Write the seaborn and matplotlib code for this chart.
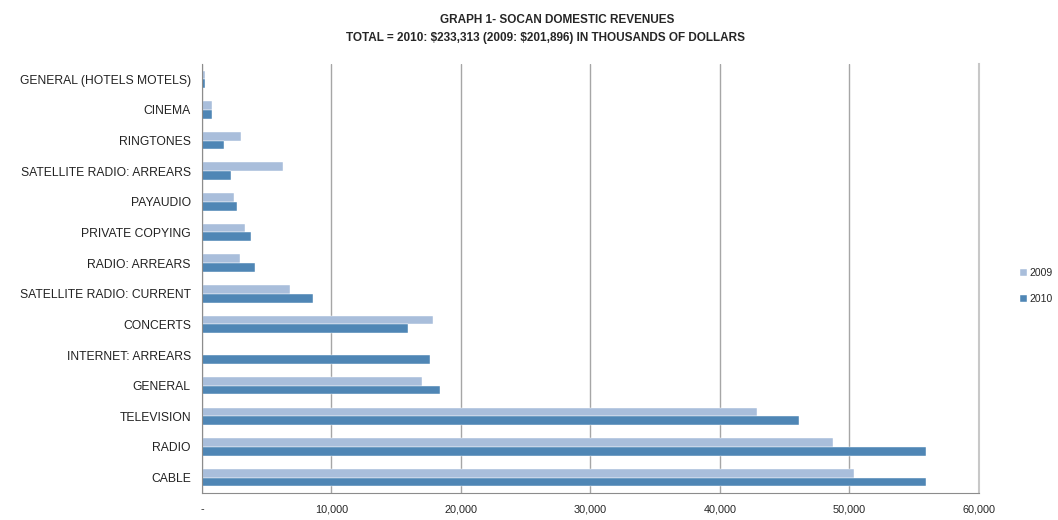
import pandas as pd
import seaborn as sns
import matplotlib.pyplot as plt

categories = [
    "GENERAL (HOTELS MOTELS)", "CINEMA", "RINGTONES", "SATELLITE RADIO: ARREARS",
    "PAYAUDIO", "PRIVATE COPYING", "RADIO: ARREARS", "SATELLITE RADIO: CURRENT",
    "CONCERTS", "INTERNET: ARREARS", "GENERAL", "TELEVISION", "RADIO", "CABLE",
]
rev_2009 = [200, 770, 2990, 6230, 2470, 3320, 2930, 6770, 17810, 0, 16990, 42830, 48750, 50350]
rev_2010 = [200, 770, 1720, 2215, 2730, 3810, 4090, 8550, 15930, 17580, 18350, 46100, 55880, 55930]
years = ["2009", "2010"]
x_ticks = [0, 10000, 20000, 30000, 40000, 50000, 60000]

df = pd.DataFrame({
    "category": categories * 2,
    "value": rev_2009 + rev_2010,
    "year": [years[0]] * len(categories) + [years[1]] * len(categories),
})

sns.set_style("white")
plt.rcParams["font.family"] = ["Liberation Sans", "DejaVu Sans"]
narrow = ["Liberation Sans Narrow", "Liberation Sans"]

fig = plt.figure(figsize=(10.58, 5.2), dpi=100)
ax = fig.add_axes([0.1909, 0.052, 0.7344, 0.825])

sns.barplot(data=df, y="category", x="value", hue="year", orient="h",
            palette=["#A9BEDB", "#4F86B5"], width=0.57, saturation=1,
            edgecolor="white", linewidth=0.3, ax=ax)

ax.set_xlim(0, 60000)
ax.set_ylim(13.5, -0.5)
ax.set_xticks(x_ticks)
ax.set_xticklabels([f"{v:,}" if v else "-" for v in x_ticks], family=narrow, fontsize=7.8)
ax.tick_params(axis="x", length=0, pad=8)
ax.tick_params(axis="y", length=0, pad=8, labelsize=8.7, labelcolor="#222222")
ax.set_xlabel("")
ax.set_ylabel("")
ax.grid(axis="x", color="#A6A6A6", linewidth=1)
ax.set_axisbelow(True)
ax.spines["top"].set_visible(False)
ax.spines["right"].set_color("#C8C8C8")
ax.spines["right"].set_linewidth(1.5)
ax.spines["left"].set_color("#8C8C8C")
ax.spines["bottom"].set_color("#8C8C8C")

ax.legend_.remove()
handles, labels = ax.get_legend_handles_labels()
fig.legend(handles, labels, loc="center left", bbox_to_anchor=(0.955, 0.45),
           frameon=False, handlelength=0.7, handleheight=0.7,
           handletextpad=0.2, labelspacing=1.5,
           prop={"family": narrow, "size": 7.5})

fig.text(0.527, 0.962, "GRAPH 1- SOCAN DOMESTIC REVENUES", ha="center", va="center",
         fontsize=8.5, fontweight="bold", family=narrow)
fig.text(0.516, 0.926, r"TOTAL = 2010: \$233,313 (2009: \$201,896) IN THOUSANDS OF DOLLARS",
         ha="center", va="center", fontsize=8.5, fontweight="bold", family=narrow)

fig.savefig("out.png", dpi=100)
